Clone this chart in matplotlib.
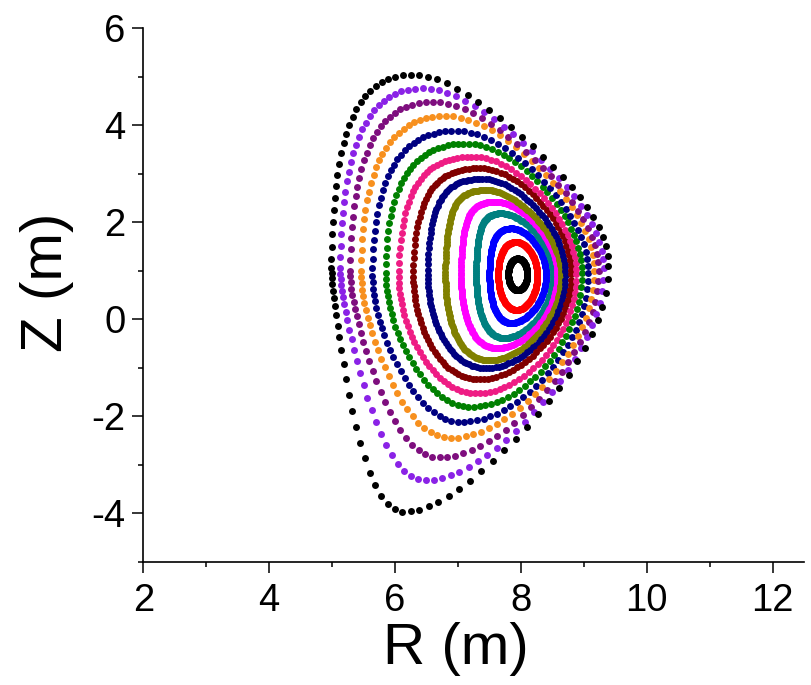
import numpy as np
import matplotlib
matplotlib.use("Agg")
import matplotlib.pyplot as plt
from matplotlib.ticker import MultipleLocator

plt.rcParams['font.family'] = ['Liberation Sans', 'DejaVu Sans']
plt.rcParams['axes.unicode_minus'] = False

# Flux surfaces, outermost -> innermost
colors = ['#000000', '#8A22E6', '#7E0E7E', '#F7901E', '#000080', '#008000',
          '#EE1C84', '#800000', '#000080', '#808000', '#FF00FF', '#008080',
          '#0000FF', '#FF0000', '#000000']
R_in  = [4.99, 5.13, 5.29, 5.46, 5.64, 5.85, 6.06, 6.29, 6.52, 6.80, 7.05, 7.29, 7.50, 7.64, 7.80]
R_out = [9.39, 9.32, 9.24, 9.17, 9.07, 8.97, 8.88, 8.80, 8.71, 8.64, 8.58, 8.51, 8.40, 8.26, 8.10]
Z_top = [5.04, 4.76, 4.48, 4.19, 3.88, 3.62, 3.35, 3.11, 2.89, 2.66, 2.42, 2.18, 1.87, 1.59, 1.25]
Z_bot = [-3.97, -3.32, -2.85, -2.45, -2.12, -1.81, -1.53, -1.24, -1.01, -0.85, -0.60, -0.39, -0.08, 0.19, 0.60]
R_top = [6.28, 6.44, 6.60, 6.81, 6.97, 7.13, 7.23, 7.34, 7.39, 7.45, 7.60, 7.69, 7.85, 7.92, 7.95]
R_bot = [6.15, 6.49, 6.71, 6.89, 7.07, 7.21, 7.29, 7.34, 7.45, 7.50, 7.63, 7.74, 7.85, 7.93, 7.95]
Z_mid = [1.10, 1.05, 1.00, 1.00, 0.95, 0.95, 0.92, 0.92, 0.90, 0.90, 0.90, 0.90, 0.90, 0.90, 0.92]
# squareness per quadrant: upper-right, upper-left, lower-left, lower-right
sq_ur = [-0.12, -0.11, -0.10, -0.09, -0.08, -0.07, -0.06, -0.05, -0.04, -0.03, -0.02, 0, 0, 0, 0]
sq_ul = [0.00, 0.00, 0.02, 0.04, 0.06, 0.08, 0.10, 0.12, 0.14, 0.15, 0.15, 0.12, 0.10, 0.05, 0]
sq_ll = [-0.35, -0.30, -0.25, -0.20, -0.15, -0.12, -0.08, -0.05, -0.03, 0, 0, 0, 0, 0, 0]
sq_lr = [-0.08, -0.07, -0.06, -0.05, -0.04, -0.03, -0.02, -0.02, -0.01, 0, 0, 0, 0, 0, 0]
n_pts = [95, 100, 100, 100, 105, 110, 115, 125, 140, 200, 220, 220, 220, 220, 200]

x_ticks = [2, 4, 6, 8, 10, 12]
y_ticks = [-4, -2, 0, 2, 4, 6]


def surface(i):
    r0 = 0.5 * (R_in[i] + R_out[i])
    a = 0.5 * (R_out[i] - R_in[i])
    th = np.linspace(0, 2 * np.pi, n_pts[i], endpoint=False)
    up = np.sin(th) >= 0
    right = np.cos(th) >= 0
    d = np.where(up, (r0 - R_top[i]) / a, (r0 - R_bot[i]) / a)
    k = np.where(up, (Z_top[i] - Z_mid[i]) / a, (Z_mid[i] - Z_bot[i]) / a)
    z = np.where(up, np.where(right, sq_ur[i], sq_ul[i]),
                 np.where(right, sq_lr[i], sq_ll[i]))
    R = r0 + a * np.cos(th + np.arcsin(d) * np.sin(th))
    Z = Z_mid[i] + k * a * np.sin(th + z * np.sin(2 * th))
    return R, Z


fig = plt.figure(figsize=(8.12, 6.85), dpi=100)
ax = fig.add_axes([0.1765, 0.180, 0.8137, 0.7791])

for i in reversed(range(len(colors))):
    R, Z = surface(i)
    ax.plot(R, Z, 'o', color=colors[i], ms=5.0, mew=0, linestyle='none')

ax.set_xlim(2, 12.5)
ax.set_ylim(-5, 6)
ax.set_xticks(x_ticks)
ax.set_yticks(y_ticks)
ax.xaxis.set_minor_locator(MultipleLocator(1))
ax.yaxis.set_minor_locator(MultipleLocator(1))
for s in ['top', 'right']:
    ax.spines[s].set_visible(False)
for s in ['left', 'bottom']:
    ax.spines[s].set_linewidth(1.2)
ax.tick_params(which='major', direction='out', length=8, width=1.1, labelsize=27.5)
ax.tick_params(axis='x', which='major', pad=7)
ax.tick_params(axis='y', which='major', pad=5)
ax.tick_params(which='minor', direction='out', length=3.6, width=1.1)

ax.set_xlabel('R (m)', fontsize=42)
ax.set_ylabel('Z (m)', fontsize=42)
ax.xaxis.set_label_coords(0.473, -0.113)
ax.yaxis.set_label_coords(-0.105, 0.524)

fig.savefig('out.png', dpi=100)
